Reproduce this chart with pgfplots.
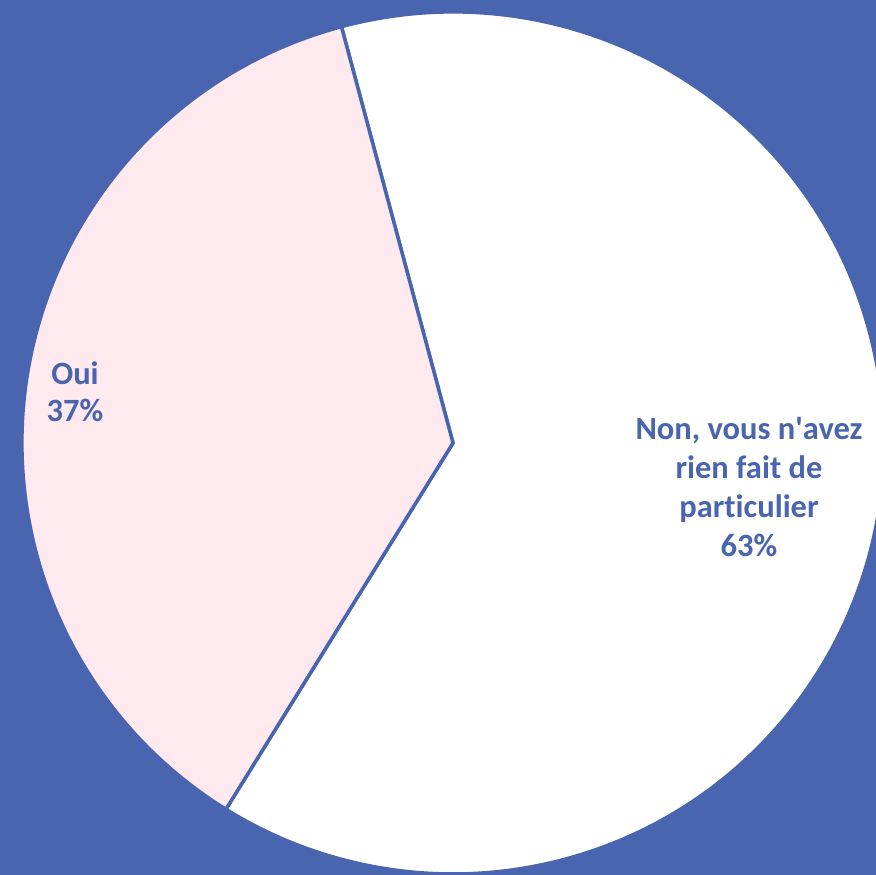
\documentclass[border=0pt]{standalone}
\usepackage{pgfplots}
\pgfplotsset{compat=1.18}
\usepackage{fontspec}
\setmainfont{Carlito}[Ligatures=NoCommon]
\definecolor{bgblue}{RGB}{74,101,175}
\definecolor{ouipink}{RGB}{253,233,238}
% data (percent)
\def\valOui{37}
\def\valNon{63}
\begin{document}
\begin{tikzpicture}
\pgfmathsetmacro{\startA}{105}
\pgfmathsetmacro{\endOui}{\startA+3.6*\valOui}
\pgfmathsetmacro{\endNon}{\startA-3.6*\valNon}
\begin{axis}[
  at={(0,0)}, anchor=south west,
  scale only axis, width=876pt, height=875pt,
  xmin=0, xmax=876, ymin=0, ymax=875,
  hide axis, clip=true,
]
\fill[bgblue] (rel axis cs:0,0) rectangle (rel axis cs:1,1);
% Non slice (white)
\filldraw[fill=white, draw=bgblue, line width=3.5pt, line join=miter]
  (axis cs:453,432) -- ++(\startA:431pt) arc[start angle=\startA, end angle=\endNon, radius=431pt] -- cycle;
% Oui slice (pink)
\filldraw[fill=ouipink, draw=bgblue, line width=3.5pt, line join=miter]
  (axis cs:453,432) -- ++(\startA:431pt) arc[start angle=\startA, end angle=\endOui, radius=431pt] -- cycle;
\node[font=\fontsize{32.5}{39}\selectfont\bfseries, text=bgblue, align=center, anchor=center]
  at (axis cs:749,388) {Non, vous n\textquotesingle avez\\rien fait de\\particulier\\\valNon\%};
\node[font=\fontsize{32.5}{37}\selectfont\bfseries, text=bgblue, align=center, anchor=center]
  at (axis cs:75,483) {Oui\\\valOui\%};
\end{axis}
\pgfresetboundingbox
\useasboundingbox (0,0) rectangle (876pt,875pt);
\end{tikzpicture}
\end{document}
